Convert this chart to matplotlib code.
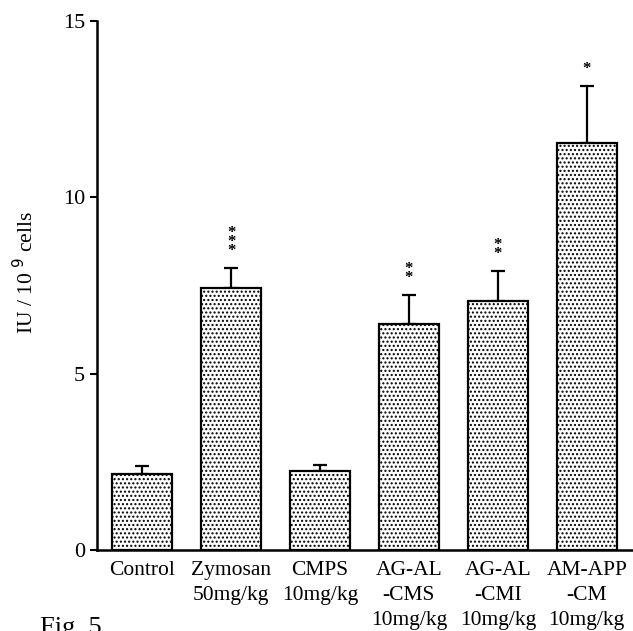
import matplotlib.pyplot as plt
import numpy as np

plt.rcParams['font.family'] = ['Liberation Serif', 'DejaVu Serif']
plt.rcParams['hatch.linewidth'] = 1.0
plt.rcParams['hatch.color'] = '#222222'

# groupes, moyennes et erreurs standard
groupes = ['Control', 'Zymosan\n50mg/kg', 'CMPS\n10mg/kg',
           'AG-AL\n-CMS\n10mg/kg', 'AG-AL\n-CMI\n10mg/kg', 'AM-APP\n-CM\n10mg/kg']
moyennes = [2.15, 7.43, 2.24, 6.41, 7.06, 11.53]
erreurs = [0.23, 0.57, 0.17, 0.82, 0.85, 1.63]
etoiles = ['', '*\n*\n*', '', '*\n*', '*\n*', '*']

x = np.arange(len(groupes))

fig = plt.figure(figsize=(6.33, 6.31), dpi=100)
ax = fig.add_axes([0.153, 0.128, 0.847, 0.839])

ax.bar(x, moyennes, width=0.67, color='white', edgecolor='black',
       linewidth=1.6, hatch='....', zorder=2)
ax.errorbar(x, moyennes, yerr=[np.zeros(len(x)), erreurs], fmt='none',
            ecolor='black', elinewidth=1.6, capsize=5, capthick=1.6, zorder=1)

for xi, m, e, s in zip(x, moyennes, erreurs, etoiles):
    if s:
        ax.text(xi, m + e + 0.25, s, ha='center', va='bottom', fontsize=12,
                linespacing=0.42, fontweight='bold')

ax.set_xlim(-0.51, 5.52)
ax.set_ylim(0, 15)
ax.set_yticks([0, 5, 10, 15])
ax.set_xticks([])
for xi, g in zip(x, groupes):
    ax.text(xi, -0.3, g, ha='center', va='top', fontsize=15.5,
            linespacing=1.42)

ax.tick_params(axis='y', labelsize=16, length=5, width=1.5, direction='out')
ax.spines['top'].set_visible(False)
ax.spines['right'].set_visible(False)
ax.spines['left'].set_linewidth(1.8)
ax.spines['bottom'].set_linewidth(1.8)
ax.set_ylabel('IU / 10 $^{9}$ cells', fontsize=15.5)
ax.yaxis.set_label_coords(-0.11, 0.524)

fig.text(0.063, 0.022, 'Fig. 5', fontsize=19, va='top')

fig.savefig('out.png', dpi=100)
